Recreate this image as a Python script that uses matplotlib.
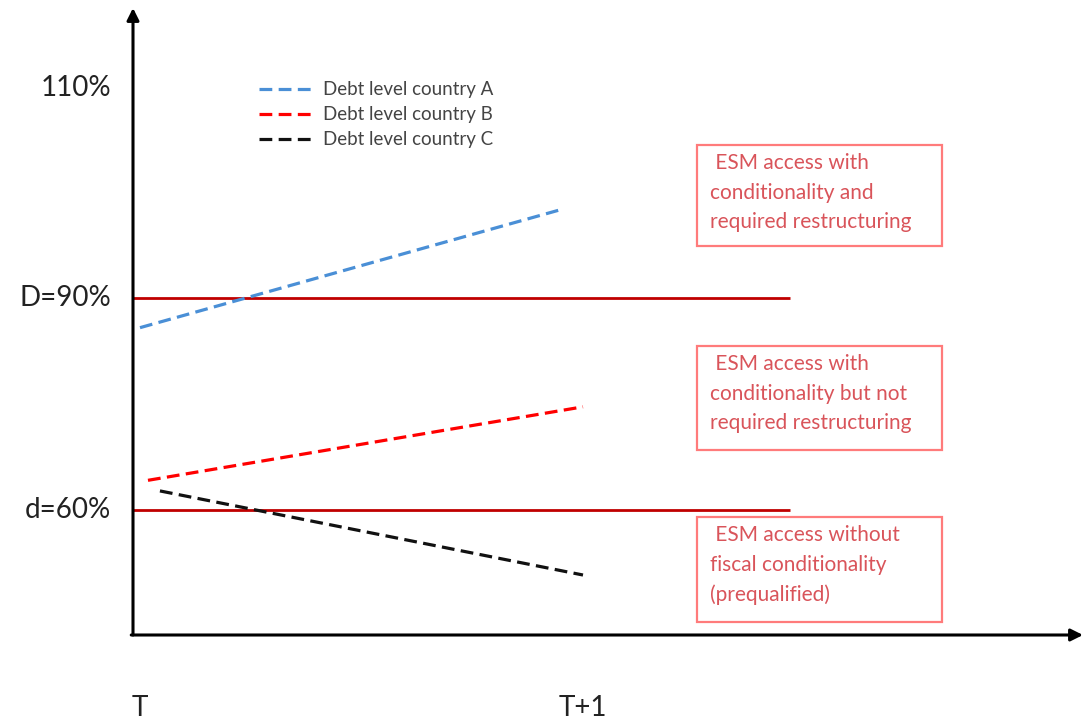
import matplotlib.pyplot as plt
from matplotlib.patches import Rectangle

# schematic debt paths, period T (0) to T+1 (1), debt in % of GDP
series_names = ['Debt level country A', 'Debt level country B', 'Debt level country C']
series_x = [[0.0, 0.944], [0.018, 1.0], [0.045, 1.0]]
series_y = [[85.8, 102.4], [64.2, 74.6], [62.7, 50.8]]
series_colors = ['#4a8fd6', '#ff0000', '#111111']

thresholds = [60, 90]
ytick_pos = [60, 90, 119.7]
ytick_labels = ['d=60%', 'D=90%', '110%']
xtick_pos = [0, 1]
xtick_labels = ['T', 'T+1']

box_texts = [
    ' ESM access with\nconditionality and\nrequired restructuring',
    ' ESM access with\nconditionality but not\nrequired restructuring',
    ' ESM access without\nfiscal conditionality\n(prequalified)',
]

W, H = 1084, 724
plt.rcParams['font.family'] = ['Lato', 'DejaVu Sans']

fig = plt.figure(figsize=(W / 100, H / 100), dpi=100)
ax = fig.add_axes([0, 0, 1, 1])

# pixel layout of the schematic
px_per_x = 443.0
px_per_y = 7.067
x0_px, y60_px = 140, 510


def dx(px):
    return (px - x0_px) / px_per_x


def dy(py):
    return 60 + (y60_px - py) / px_per_y


ax.set_xlim(dx(0), dx(W))
ax.set_ylim(dy(H), dy(0))
ax.axis('off')

# axes with arrows
x_left = dx(133)
y_bottom = dy(635)
ax.annotate('', xy=(x_left, dy(8)), xytext=(x_left, y_bottom),
            arrowprops=dict(arrowstyle='-|>', color='black', lw=2.2,
                            mutation_scale=18, shrinkA=0, shrinkB=0))
ax.annotate('', xy=(dx(1083), y_bottom), xytext=(x_left - 0.004, y_bottom),
            arrowprops=dict(arrowstyle='-|>', color='black', lw=2.2,
                            mutation_scale=18, shrinkA=0, shrinkB=0))

# thresholds
for t in thresholds:
    ax.plot([x_left, dx(790)], [t, t], color='#c00000', lw=2.0, solid_capstyle='butt')

# debt paths
for name, xs, ys, c in zip(series_names, series_x, series_y, series_colors):
    ax.plot(xs, ys, color=c, lw=2.3, dashes=(4, 2), label=name)

# y labels
for pos, lab in zip(ytick_pos, ytick_labels):
    ax.text(dx(111), pos, lab, ha='right', va='center', fontsize=20, color='#222222')

# x labels
for pos, lab in zip(xtick_pos, xtick_labels):
    ax.text(pos, dy(708), lab, ha='center', va='center', fontsize=20, color='#222222')

leg = ax.legend(loc='upper left', bbox_to_anchor=(250 / W, 1 - 72 / H),
                frameon=False, fontsize=13.5, handlelength=2.8, handletextpad=0.6,
                labelspacing=0.42, borderpad=0, labelcolor='#444444')

# text boxes
boxes_px = [(697, 145, 942, 246), (697, 346, 942, 450), (697, 517, 942, 622)]
for (l, t, r, b), txt in zip(boxes_px, box_texts):
    fig.patches.append(Rectangle((l / W, 1 - b / H), (r - l) / W, (b - t) / H,
                                 transform=fig.transFigure, fill=False,
                                 edgecolor='#ff7b7b', lw=1.6))
    fig.text(710 / W, 1 - (t + 8) / H, txt, ha='left', va='top', fontsize=15,
             color='#d9545a', linespacing=1.6)

fig.savefig('out.png', dpi=100)
